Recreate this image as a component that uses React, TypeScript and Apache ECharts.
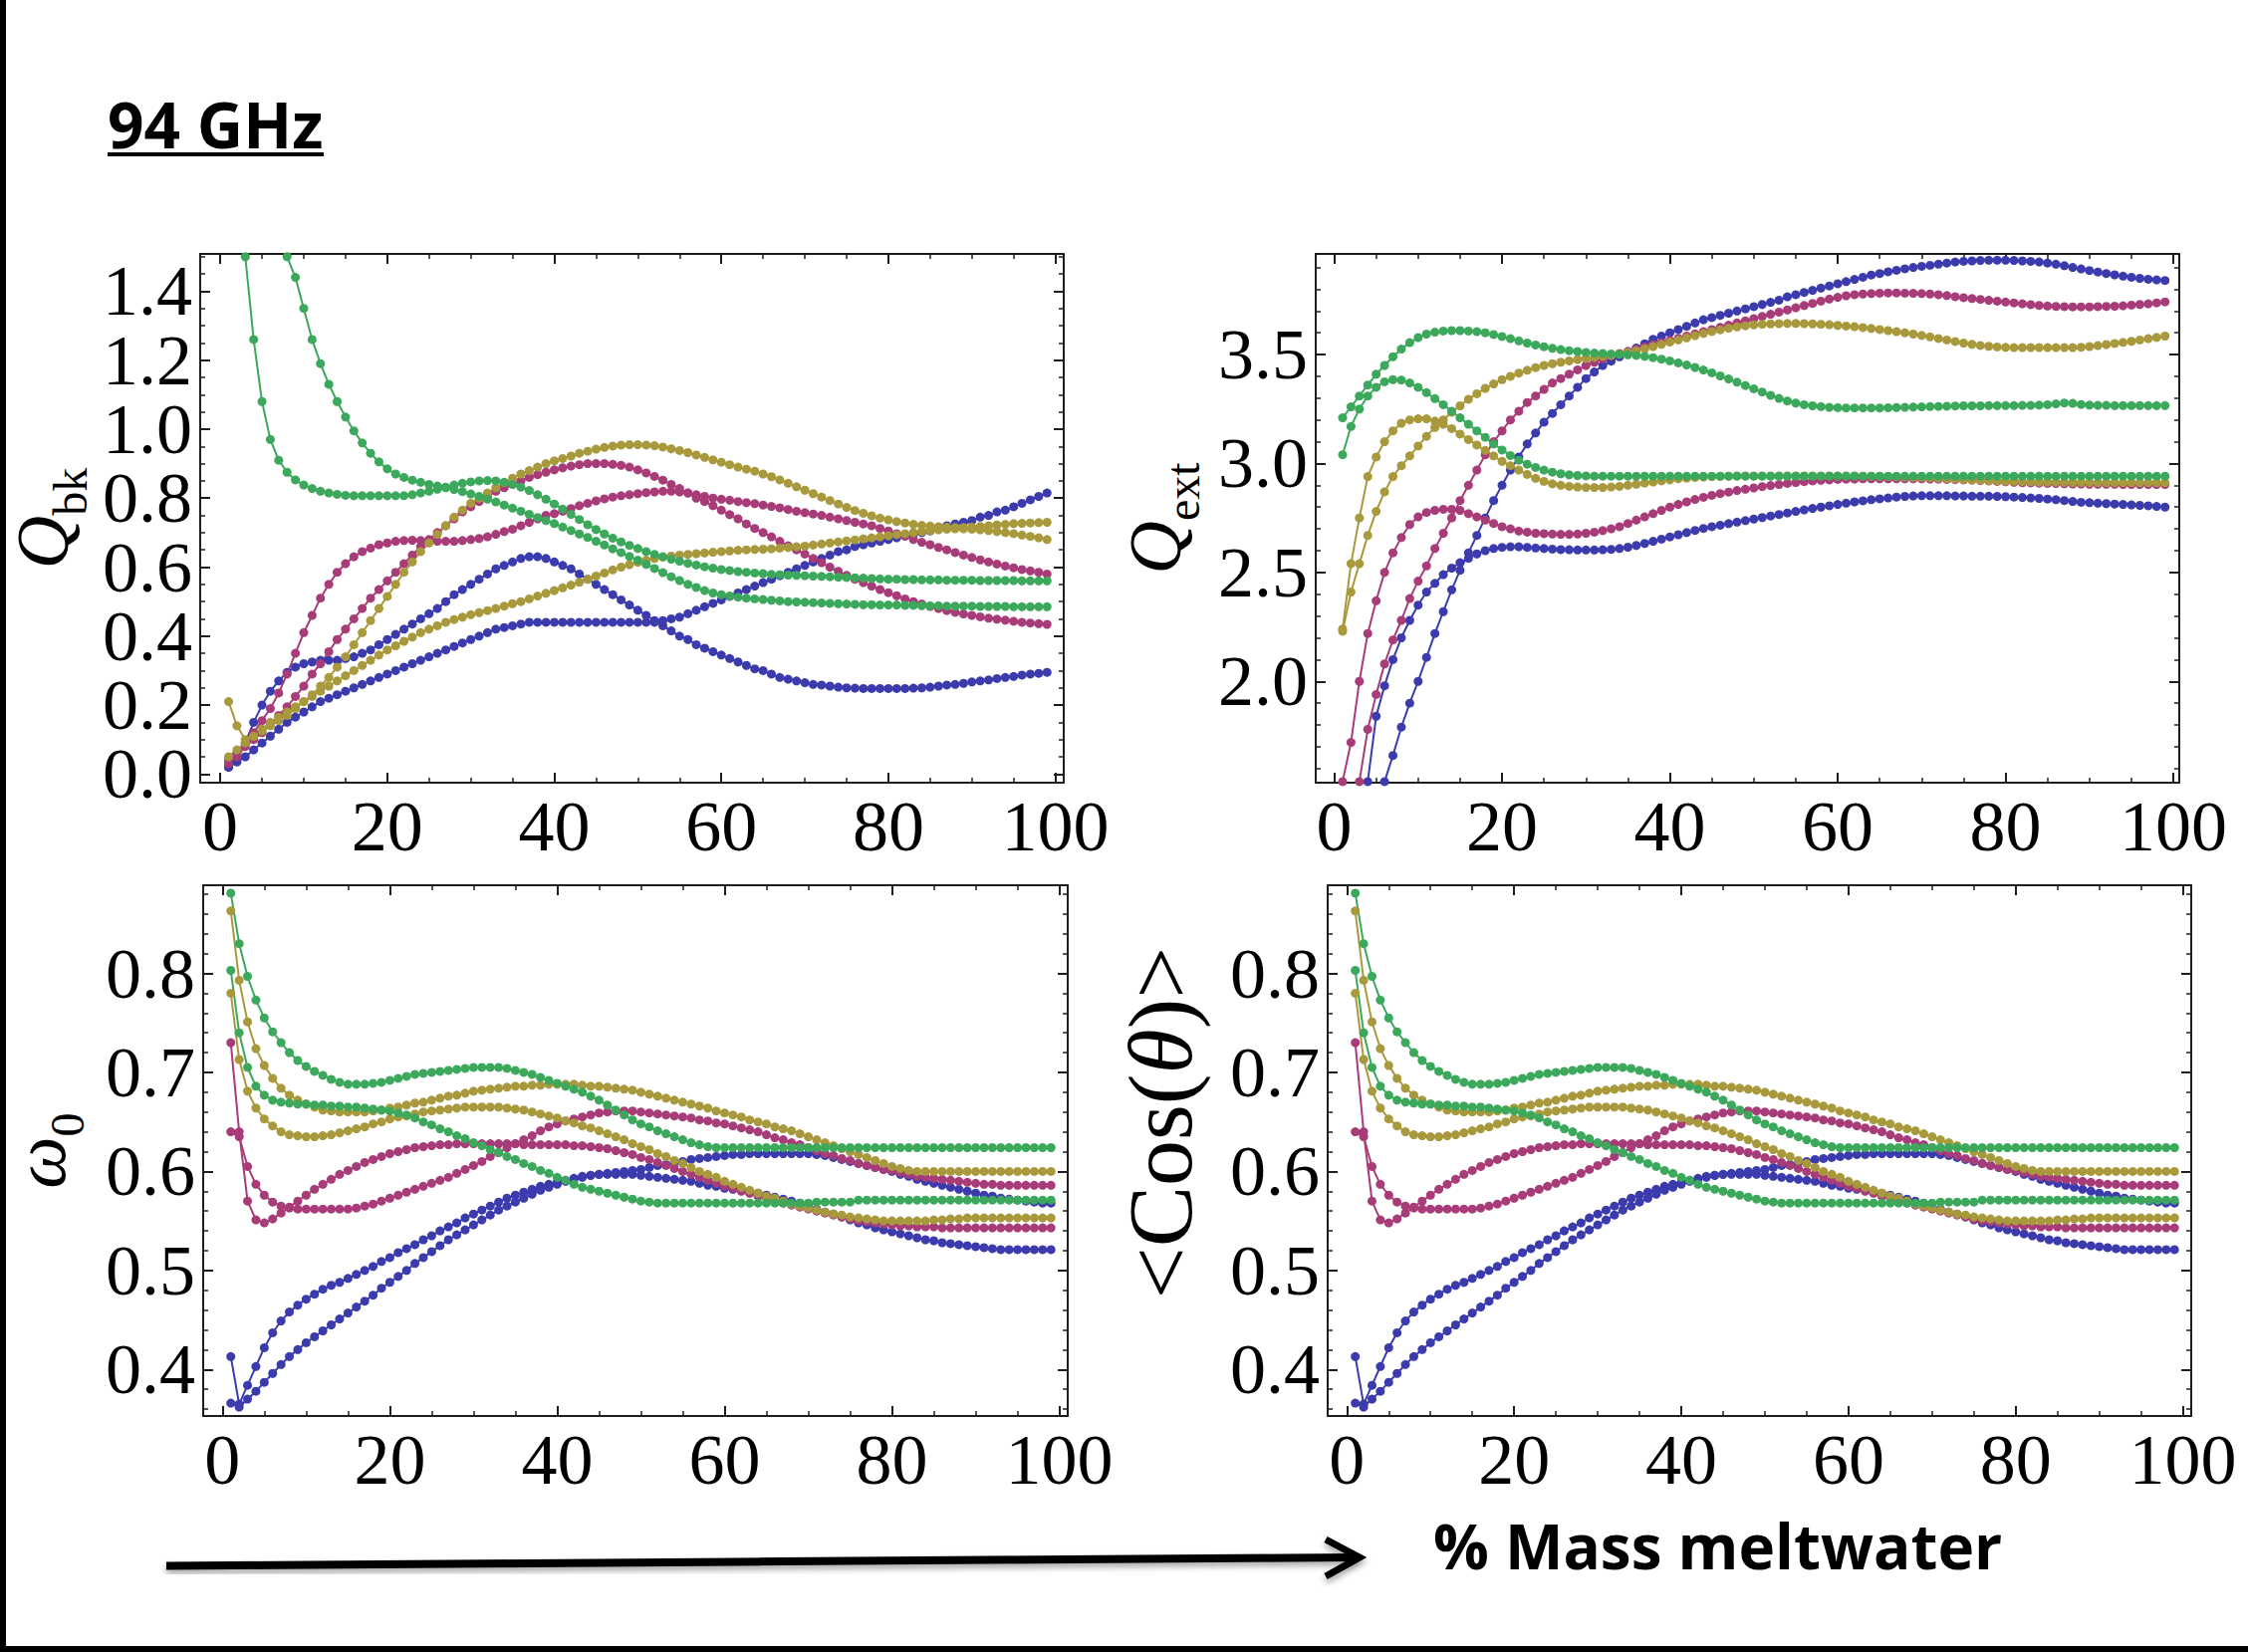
import React, { useEffect, useRef } from "react";
import * as echarts from "echarts";

// ---------- tick labels ----------
const X_TICKS = [0, 20, 40, 60, 80, 100];
const QBK_TICKS = [0, 0.2, 0.4, 0.6, 0.8, 1.0, 1.2, 1.4];
const QEXT_TICKS = [2.0, 2.5, 3.0, 3.5];
const W_TICKS = [0.4, 0.5, 0.6, 0.7, 0.8];

// x of every point = 1..99 (% mass meltwater)

// ---------- Q_bk ----------
const QBK_BLUE_1 = [
  0.02, 0.05, 0.09, 0.15, 0.2, 0.24, 0.27, 0.295, 0.31, 0.32,
  0.325, 0.33, 0.33, 0.33, 0.335, 0.34, 0.35, 0.36, 0.375, 0.39,
  0.405, 0.42, 0.435, 0.45, 0.465, 0.48, 0.5, 0.52, 0.535, 0.55,
  0.565, 0.58, 0.595, 0.605, 0.615, 0.625, 0.63, 0.63, 0.625, 0.615,
  0.605, 0.595, 0.58, 0.565, 0.55, 0.535, 0.52, 0.505, 0.49, 0.475,
  0.46, 0.445, 0.43, 0.415, 0.4, 0.39, 0.375, 0.365, 0.355, 0.345,
  0.335, 0.325, 0.315, 0.305, 0.3, 0.29, 0.28, 0.275, 0.27, 0.265,
  0.26, 0.258, 0.255, 0.252, 0.25, 0.249, 0.248, 0.248, 0.248, 0.248,
  0.248, 0.248, 0.249, 0.25, 0.252, 0.255, 0.258, 0.26, 0.263, 0.267,
  0.27, 0.273, 0.277, 0.28, 0.283, 0.287, 0.29, 0.292, 0.295,
];
const QBK_BLUE_2 = [
  0.02, 0.035, 0.05, 0.07, 0.09, 0.11, 0.13, 0.15, 0.165, 0.18,
  0.195, 0.21, 0.22, 0.23, 0.24, 0.25, 0.26, 0.27, 0.28, 0.29,
  0.3, 0.31, 0.32, 0.33, 0.34, 0.35, 0.36, 0.37, 0.38, 0.39,
  0.4, 0.41, 0.42, 0.425, 0.43, 0.435, 0.44, 0.44, 0.44, 0.44,
  0.44, 0.44, 0.44, 0.44, 0.44, 0.44, 0.44, 0.44, 0.44, 0.44,
  0.44, 0.44, 0.445, 0.45, 0.455, 0.465, 0.475, 0.485, 0.495, 0.505,
  0.515, 0.525, 0.535, 0.545, 0.555, 0.565, 0.575, 0.585, 0.595, 0.605,
  0.615, 0.625, 0.635, 0.645, 0.65, 0.66, 0.665, 0.67, 0.675, 0.68,
  0.685, 0.69, 0.695, 0.7, 0.705, 0.71, 0.72, 0.725, 0.73, 0.735,
  0.745, 0.75, 0.76, 0.765, 0.775, 0.785, 0.795, 0.805, 0.815,
];
const QBK_MAGENTA_1 = [
  0.04, 0.06, 0.09, 0.12, 0.155, 0.19, 0.235, 0.29, 0.35, 0.41,
  0.46, 0.51, 0.55, 0.585, 0.61, 0.63, 0.645, 0.655, 0.665, 0.67,
  0.675, 0.677, 0.678, 0.677, 0.675, 0.675, 0.675, 0.675, 0.677, 0.68,
  0.683, 0.688, 0.695, 0.703, 0.71, 0.72, 0.73, 0.74, 0.75, 0.755,
  0.762, 0.77, 0.778, 0.785, 0.792, 0.798, 0.803, 0.807, 0.81, 0.813,
  0.816, 0.818, 0.82, 0.82, 0.818, 0.815, 0.81, 0.805, 0.8, 0.797,
  0.794, 0.79, 0.787, 0.784, 0.78, 0.776, 0.772, 0.767, 0.762, 0.758,
  0.754, 0.75, 0.745, 0.74, 0.735, 0.73, 0.725, 0.72, 0.712, 0.705,
  0.697, 0.69, 0.68, 0.672, 0.665, 0.657, 0.65, 0.642, 0.635, 0.628,
  0.621, 0.615, 0.609, 0.603, 0.598, 0.593, 0.589, 0.585, 0.58,
];
const QBK_MAGENTA_2 = [
  0.03, 0.05, 0.08, 0.1, 0.12, 0.145, 0.17, 0.195, 0.225, 0.255,
  0.29, 0.32, 0.355, 0.39, 0.42, 0.45, 0.48, 0.51, 0.535, 0.56,
  0.585, 0.61, 0.635, 0.66, 0.68, 0.7, 0.72, 0.74, 0.76, 0.775,
  0.79, 0.805, 0.82, 0.83, 0.84, 0.85, 0.86, 0.868, 0.875, 0.882,
  0.888, 0.893, 0.897, 0.9, 0.9, 0.9, 0.898, 0.895, 0.89, 0.882,
  0.873, 0.863, 0.852, 0.84, 0.828, 0.815, 0.8, 0.79, 0.778, 0.765,
  0.752, 0.74, 0.725, 0.712, 0.7, 0.688, 0.675, 0.662, 0.65, 0.638,
  0.625, 0.613, 0.6, 0.588, 0.576, 0.565, 0.555, 0.545, 0.535, 0.526,
  0.517, 0.508, 0.5, 0.493, 0.486, 0.48, 0.474, 0.469, 0.464, 0.46,
  0.456, 0.452, 0.449, 0.446, 0.443, 0.44, 0.438, 0.436, 0.434,
];
const QBK_GOLD_1 = [
  0.21, 0.14, 0.1, 0.11, 0.125, 0.14, 0.155, 0.17, 0.19, 0.21,
  0.23, 0.255, 0.28, 0.31, 0.34, 0.375, 0.41, 0.445, 0.48, 0.515,
  0.55, 0.585, 0.615, 0.645, 0.67, 0.695, 0.72, 0.745, 0.765, 0.785,
  0.8, 0.815, 0.83, 0.845, 0.858, 0.87, 0.88, 0.89, 0.9, 0.908,
  0.915, 0.922, 0.93, 0.936, 0.942, 0.947, 0.951, 0.954, 0.955, 0.955,
  0.954, 0.952, 0.948, 0.943, 0.938, 0.932, 0.925, 0.918, 0.911, 0.904,
  0.897, 0.89, 0.884, 0.878, 0.87, 0.862, 0.853, 0.843, 0.833, 0.823,
  0.813, 0.803, 0.793, 0.783, 0.773, 0.764, 0.756, 0.749, 0.742, 0.737,
  0.732, 0.728, 0.724, 0.721, 0.719, 0.717, 0.716, 0.715, 0.715, 0.716,
  0.718, 0.72, 0.722, 0.724, 0.726, 0.727, 0.728, 0.729, 0.73,
];
const QBK_GOLD_2 = [
  0.05, 0.07, 0.09, 0.11, 0.13, 0.15, 0.165, 0.18, 0.195, 0.21,
  0.225, 0.24, 0.255, 0.27, 0.285, 0.3, 0.315, 0.33, 0.345, 0.36,
  0.372, 0.385, 0.397, 0.41, 0.42, 0.43, 0.44, 0.448, 0.455, 0.462,
  0.468, 0.474, 0.48, 0.487, 0.494, 0.5, 0.508, 0.516, 0.524, 0.532,
  0.54, 0.548, 0.556, 0.565, 0.574, 0.583, 0.592, 0.6, 0.607, 0.614,
  0.62, 0.625, 0.629, 0.632, 0.635, 0.637, 0.639, 0.641, 0.643, 0.645,
  0.647, 0.649, 0.65, 0.651, 0.652, 0.653, 0.655, 0.657, 0.659, 0.661,
  0.664, 0.667, 0.67, 0.673, 0.676, 0.679, 0.682, 0.685, 0.688, 0.691,
  0.694, 0.697, 0.7, 0.703, 0.706, 0.708, 0.71, 0.711, 0.711, 0.71,
  0.708, 0.706, 0.703, 0.7, 0.697, 0.693, 0.689, 0.685, 0.68,
];
const QBK_GREEN_1 = [
  null, null, 1.5, 1.26, 1.08, 0.97, 0.91, 0.875, 0.853, 0.838,
  0.828, 0.82, 0.815, 0.811, 0.808, 0.807, 0.807, 0.807, 0.807, 0.807,
  0.807, 0.807, 0.81, 0.815, 0.82, 0.826, 0.832, 0.838, 0.843, 0.847,
  0.85, 0.851, 0.85, 0.846, 0.84, 0.832, 0.822, 0.81, 0.797, 0.783,
  0.768, 0.753, 0.738, 0.723, 0.709, 0.696, 0.684, 0.673, 0.663, 0.654,
  0.645, 0.637, 0.63, 0.623, 0.617, 0.611, 0.606, 0.601, 0.597, 0.593,
  0.59, 0.587, 0.585, 0.583, 0.581, 0.579, 0.578, 0.577, 0.576, 0.575,
  0.574, 0.573, 0.572, 0.571, 0.57, 0.569, 0.568, 0.567, 0.566, 0.565,
  0.565, 0.564, 0.564, 0.563, 0.563, 0.563, 0.562, 0.562, 0.562, 0.562,
  0.561, 0.561, 0.561, 0.561, 0.561, 0.56, 0.56, 0.56, 0.56,
];
const QBK_GREEN_2 = [
  null, null, null, null, null, null, null, 1.5, 1.44, 1.35,
  1.26, 1.19, 1.13, 1.08, 1.035, 0.995, 0.96, 0.93, 0.905, 0.885,
  0.87, 0.86, 0.852, 0.846, 0.84, 0.835, 0.83, 0.825, 0.819, 0.812,
  0.805, 0.797, 0.789, 0.78, 0.771, 0.762, 0.753, 0.744, 0.735, 0.726,
  0.716, 0.706, 0.696, 0.686, 0.675, 0.664, 0.653, 0.642, 0.631, 0.62,
  0.608, 0.596, 0.584, 0.572, 0.561, 0.55, 0.541, 0.532, 0.525, 0.52,
  0.516, 0.513, 0.51, 0.508, 0.506, 0.504, 0.502, 0.5, 0.499, 0.498,
  0.497, 0.496, 0.495, 0.494, 0.493, 0.492, 0.491, 0.491, 0.49, 0.49,
  0.49, 0.489, 0.489, 0.488, 0.488, 0.488, 0.487, 0.487, 0.487, 0.487,
  0.486, 0.486, 0.486, 0.486, 0.485, 0.485, 0.485, 0.485, 0.485,
];

// ---------- Q_ext ----------
const QEXT_BLUE_1 = [
  null, null, null, null, null, 1.54, 1.66, 1.79, 1.9, 2.0,
  2.11, 2.22, 2.32, 2.42, 2.51, 2.59, 2.67, 2.75, 2.83, 2.9,
  2.97, 3.03, 3.09, 3.14, 3.19, 3.23, 3.27, 3.31, 3.35, 3.39,
  3.42, 3.45, 3.47, 3.49, 3.51, 3.53, 3.55, 3.57, 3.585, 3.6,
  3.615, 3.63, 3.645, 3.66, 3.67, 3.68, 3.69, 3.7, 3.71, 3.72,
  3.73, 3.74, 3.75, 3.765, 3.775, 3.785, 3.795, 3.805, 3.815, 3.825,
  3.835, 3.845, 3.855, 3.865, 3.872, 3.88, 3.887, 3.894, 3.9, 3.905,
  3.91, 3.915, 3.92, 3.925, 3.928, 3.93, 3.932, 3.933, 3.933, 3.933,
  3.932, 3.93, 3.928, 3.925, 3.92, 3.915, 3.908, 3.9, 3.893, 3.886,
  3.879, 3.872, 3.866, 3.86, 3.855, 3.85, 3.846, 3.843, 3.84,
];
const QEXT_BLUE_2 = [
  null, null, null, 1.54, 1.84, 1.98, 2.1, 2.2, 2.28, 2.35,
  2.41, 2.45, 2.49, 2.52, 2.545, 2.565, 2.585, 2.6, 2.61, 2.615,
  2.618, 2.618, 2.615, 2.612, 2.61, 2.607, 2.605, 2.604, 2.603, 2.603,
  2.603, 2.604, 2.606, 2.61, 2.616, 2.624, 2.633, 2.643, 2.653, 2.663,
  2.673, 2.683, 2.693, 2.702, 2.71, 2.717, 2.724, 2.731, 2.738, 2.745,
  2.752, 2.759, 2.766, 2.773, 2.78, 2.787, 2.794, 2.8, 2.806, 2.812,
  2.818, 2.824, 2.829, 2.834, 2.838, 2.842, 2.846, 2.849, 2.851, 2.852,
  2.852, 2.852, 2.852, 2.851, 2.851, 2.85, 2.85, 2.85, 2.849, 2.848,
  2.846, 2.844, 2.842, 2.84, 2.837, 2.834, 2.83, 2.826, 2.822, 2.82,
  2.818, 2.816, 2.814, 2.812, 2.81, 2.808, 2.806, 2.803, 2.8,
];
const QEXT_MAGENTA_1 = [
  1.54, 1.72, 2.0, 2.22, 2.37, 2.5, 2.59, 2.66, 2.72, 2.755,
  2.775, 2.785, 2.79, 2.79, 2.785, 2.77, 2.755, 2.74, 2.725, 2.71,
  2.7, 2.69, 2.685, 2.68, 2.678, 2.676, 2.675, 2.675, 2.676, 2.68,
  2.685, 2.692, 2.7, 2.71, 2.725, 2.74, 2.755, 2.77, 2.785, 2.8,
  2.812, 2.824, 2.835, 2.845, 2.854, 2.862, 2.869, 2.876, 2.882, 2.888,
  2.894, 2.899, 2.904, 2.909, 2.913, 2.917, 2.92, 2.923, 2.925, 2.927,
  2.928, 2.929, 2.93, 2.93, 2.93, 2.93, 2.93, 2.93, 2.93, 2.93,
  2.929, 2.928, 2.927, 2.926, 2.925, 2.924, 2.922, 2.92, 2.918, 2.916,
  2.914, 2.912, 2.911, 2.91, 2.909, 2.908, 2.907, 2.906, 2.906, 2.905,
  2.905, 2.905, 2.905, 2.904, 2.904, 2.904, 2.904, 2.904, 2.904,
];
const QEXT_MAGENTA_2 = [
  null, null, 1.54, 1.78, 1.94, 2.08, 2.19, 2.28, 2.38, 2.46,
  2.53, 2.61, 2.68, 2.75, 2.83, 2.9, 2.97, 3.04, 3.1, 3.15,
  3.2, 3.24, 3.28, 3.31, 3.34, 3.37, 3.39, 3.41, 3.43, 3.45,
  3.465, 3.48, 3.495, 3.505, 3.515, 3.525, 3.535, 3.545, 3.555, 3.565,
  3.575, 3.585, 3.595, 3.605, 3.615, 3.625, 3.635, 3.645, 3.655, 3.665,
  3.675, 3.685, 3.695, 3.705, 3.715, 3.725, 3.735, 3.745, 3.755, 3.763,
  3.77, 3.775, 3.778, 3.78, 3.782, 3.783, 3.783, 3.782, 3.781, 3.78,
  3.778, 3.775, 3.771, 3.766, 3.761, 3.757, 3.753, 3.749, 3.745, 3.741,
  3.737, 3.733, 3.729, 3.726, 3.723, 3.721, 3.72, 3.719, 3.719, 3.719,
  3.72, 3.721, 3.722, 3.724, 3.727, 3.73, 3.733, 3.737, 3.742,
];
const QEXT_GOLD_1 = [
  2.24, 2.54, 2.75, 2.94, 3.03, 3.1, 3.15, 3.185, 3.2, 3.205,
  3.205, 3.195, 3.18, 3.16, 3.135, 3.11, 3.085, 3.06, 3.035, 3.01,
  2.99, 2.97, 2.95, 2.932, 2.918, 2.907, 2.9, 2.895, 2.892, 2.89,
  2.89, 2.89, 2.892, 2.895, 2.9, 2.905, 2.91, 2.915, 2.92, 2.925,
  2.93, 2.933, 2.936, 2.938, 2.94, 2.941, 2.942, 2.943, 2.943, 2.943,
  2.943, 2.943, 2.943, 2.943, 2.943, 2.943, 2.943, 2.943, 2.943, 2.943,
  2.943, 2.943, 2.942, 2.942, 2.941, 2.94, 2.939, 2.938, 2.937, 2.936,
  2.935, 2.933, 2.931, 2.929, 2.927, 2.925, 2.923, 2.921, 2.92, 2.919,
  2.918, 2.917, 2.916, 2.915, 2.915, 2.914, 2.914, 2.913, 2.913, 2.913,
  2.912, 2.912, 2.912, 2.912, 2.912, 2.912, 2.912, 2.912, 2.912,
];
const QEXT_GOLD_2 = [
  2.23, 2.41, 2.54, 2.67, 2.78, 2.87, 2.94, 2.99, 3.035, 3.08,
  3.125, 3.165, 3.2, 3.235, 3.265, 3.295, 3.32, 3.345, 3.365, 3.385,
  3.4, 3.415, 3.428, 3.44, 3.45, 3.458, 3.465, 3.471, 3.477, 3.482,
  3.487, 3.492, 3.497, 3.503, 3.51, 3.518, 3.527, 3.537, 3.547, 3.557,
  3.567, 3.577, 3.587, 3.597, 3.606, 3.614, 3.621, 3.627, 3.632, 3.636,
  3.639, 3.641, 3.642, 3.643, 3.643, 3.642, 3.641, 3.639, 3.637, 3.634,
  3.631, 3.628, 3.624, 3.62, 3.615, 3.61, 3.605, 3.6, 3.594, 3.588,
  3.581, 3.574, 3.567, 3.56, 3.553, 3.547, 3.542, 3.538, 3.535, 3.533,
  3.532, 3.532, 3.532, 3.532, 3.532, 3.532, 3.532, 3.532, 3.534, 3.537,
  3.541, 3.546, 3.551, 3.556, 3.561, 3.567, 3.573, 3.579, 3.585,
];
const QEXT_GREEN_1 = [
  3.21, 3.26, 3.31, 3.36, 3.41, 3.45, 3.49, 3.525, 3.555, 3.578,
  3.594, 3.603, 3.608, 3.61, 3.61, 3.608, 3.605, 3.6, 3.592, 3.583,
  3.573, 3.563, 3.553, 3.544, 3.536, 3.529, 3.523, 3.518, 3.514, 3.51,
  3.507, 3.505, 3.503, 3.501, 3.499, 3.496, 3.492, 3.486, 3.479, 3.471,
  3.462, 3.452, 3.441, 3.429, 3.416, 3.402, 3.388, 3.373, 3.358, 3.343,
  3.328, 3.313, 3.299, 3.287, 3.277, 3.27, 3.265, 3.261, 3.258, 3.256,
  3.255, 3.255, 3.255, 3.255, 3.255, 3.256, 3.257, 3.258, 3.259, 3.26,
  3.261, 3.262, 3.263, 3.264, 3.265, 3.265, 3.265, 3.266, 3.266, 3.266,
  3.266, 3.267, 3.267, 3.268, 3.27, 3.274, 3.278, 3.276, 3.271, 3.268,
  3.267, 3.267, 3.266, 3.266, 3.266, 3.266, 3.266, 3.266, 3.266,
];
const QEXT_GREEN_2 = [
  3.04, 3.17, 3.25, 3.31, 3.35, 3.375, 3.385, 3.383, 3.37, 3.35,
  3.325, 3.298, 3.27, 3.24, 3.21, 3.18, 3.15, 3.12, 3.09, 3.062,
  3.037, 3.015, 2.997, 2.982, 2.97, 2.96, 2.953, 2.948, 2.945, 2.943,
  2.942, 2.942, 2.942, 2.942, 2.942, 2.942, 2.942, 2.942, 2.942, 2.942,
  2.942, 2.942, 2.942, 2.942, 2.942, 2.942, 2.942, 2.942, 2.942, 2.942,
  2.942, 2.942, 2.942, 2.942, 2.942, 2.942, 2.942, 2.942, 2.942, 2.942,
  2.942, 2.942, 2.942, 2.942, 2.942, 2.942, 2.942, 2.942, 2.942, 2.942,
  2.942, 2.942, 2.942, 2.942, 2.942, 2.942, 2.942, 2.942, 2.942, 2.942,
  2.942, 2.942, 2.942, 2.942, 2.942, 2.942, 2.942, 2.942, 2.942, 2.942,
  2.942, 2.942, 2.942, 2.942, 2.942, 2.942, 2.942, 2.942, 2.942,
];

// ---------- omega_0 (the <Cos(theta)> panel shows the same curves) ----------
const W_BLUE_1 = [
  0.413, 0.365, 0.384, 0.403, 0.422, 0.437, 0.449, 0.458, 0.465, 0.471,
  0.476, 0.481, 0.485, 0.488, 0.492, 0.496, 0.5, 0.504, 0.509, 0.513,
  0.518, 0.522, 0.526, 0.531, 0.535, 0.54, 0.544, 0.548, 0.553, 0.557,
  0.561, 0.565, 0.569, 0.573, 0.576, 0.579, 0.582, 0.585, 0.587, 0.589,
  0.591, 0.593, 0.595, 0.596, 0.597, 0.597, 0.597, 0.597, 0.597, 0.596,
  0.595, 0.594, 0.593, 0.592, 0.591, 0.59, 0.588, 0.586, 0.585, 0.583,
  0.582, 0.581, 0.579, 0.578, 0.576, 0.574, 0.572, 0.57, 0.568, 0.565,
  0.562, 0.559, 0.557, 0.554, 0.551, 0.548, 0.546, 0.543, 0.541, 0.539,
  0.537, 0.535, 0.533, 0.531, 0.53, 0.528, 0.527, 0.526, 0.525, 0.524,
  0.523, 0.522, 0.521, 0.521, 0.521, 0.521, 0.521, 0.521, 0.521,
];
const W_BLUE_2 = [
  0.366, 0.362, 0.37, 0.378, 0.387, 0.396, 0.405, 0.413, 0.42, 0.427,
  0.433, 0.439, 0.445, 0.451, 0.457, 0.463, 0.469, 0.475, 0.482, 0.488,
  0.494, 0.5, 0.507, 0.513, 0.519, 0.525, 0.531, 0.536, 0.541, 0.546,
  0.551, 0.556, 0.561, 0.565, 0.569, 0.573, 0.577, 0.581, 0.584, 0.587,
  0.59, 0.592, 0.594, 0.596, 0.597, 0.598, 0.599, 0.6, 0.601, 0.602,
  0.604, 0.606, 0.607, 0.609, 0.61, 0.612, 0.613, 0.614, 0.615, 0.616,
  0.617, 0.617, 0.618, 0.618, 0.618, 0.618, 0.618, 0.618, 0.618, 0.618,
  0.617, 0.616, 0.614, 0.612, 0.61, 0.608, 0.606, 0.604, 0.602, 0.6,
  0.597, 0.595, 0.592, 0.59, 0.588, 0.586, 0.584, 0.582, 0.58, 0.578,
  0.576, 0.575, 0.573, 0.572, 0.571, 0.57, 0.569, 0.568, 0.568,
];
const W_MAGENTA_1 = [
  0.73, 0.64, 0.57, 0.551, 0.548, 0.552, 0.558, 0.564, 0.57, 0.576,
  0.582, 0.587, 0.592, 0.597, 0.601, 0.605, 0.609, 0.612, 0.615, 0.618,
  0.62, 0.622, 0.624, 0.625, 0.626, 0.627, 0.627, 0.628, 0.628, 0.628,
  0.628, 0.628, 0.628, 0.628, 0.628, 0.627, 0.627, 0.627, 0.627, 0.627,
  0.627, 0.626, 0.626, 0.625, 0.624, 0.623, 0.621, 0.619, 0.617, 0.614,
  0.612, 0.609, 0.606, 0.603, 0.6, 0.597, 0.594, 0.591, 0.588, 0.585,
  0.583, 0.58, 0.578, 0.575, 0.573, 0.571, 0.568, 0.566, 0.564, 0.562,
  0.56, 0.558, 0.556, 0.554, 0.552, 0.55, 0.549, 0.548, 0.547, 0.546,
  0.545, 0.545, 0.544, 0.544, 0.544, 0.543, 0.543, 0.543, 0.543, 0.543,
  0.543, 0.543, 0.543, 0.543, 0.543, 0.543, 0.543, 0.543, 0.543,
];
const W_MAGENTA_2 = [
  0.64, 0.635, 0.605, 0.587, 0.576, 0.569, 0.565, 0.563, 0.562, 0.562,
  0.562, 0.562, 0.562, 0.562, 0.562, 0.563, 0.565, 0.567, 0.57, 0.573,
  0.576, 0.579, 0.582, 0.585, 0.588, 0.591, 0.594, 0.598, 0.602, 0.606,
  0.61, 0.615, 0.619, 0.624, 0.628, 0.632, 0.636, 0.641, 0.645, 0.648,
  0.651, 0.653, 0.655, 0.657, 0.659, 0.66, 0.661, 0.661, 0.661, 0.66,
  0.659, 0.658, 0.657, 0.656, 0.655, 0.654, 0.652, 0.651, 0.649, 0.648,
  0.646, 0.644, 0.642, 0.64, 0.637, 0.634, 0.632, 0.629, 0.627, 0.624,
  0.621, 0.618, 0.616, 0.613, 0.611, 0.608, 0.606, 0.604, 0.602, 0.601,
  0.599, 0.597, 0.595, 0.594, 0.593, 0.592, 0.591, 0.59, 0.589, 0.588,
  0.587, 0.587, 0.586, 0.586, 0.586, 0.586, 0.586, 0.586, 0.586,
];
const W_GOLD_1 = [
  0.863, 0.793, 0.751, 0.724, 0.707, 0.694, 0.684, 0.677, 0.672, 0.668,
  0.665, 0.662, 0.661, 0.66, 0.66, 0.66, 0.66, 0.661, 0.662, 0.664,
  0.665, 0.667, 0.669, 0.67, 0.672, 0.674, 0.676, 0.677, 0.679, 0.681,
  0.682, 0.683, 0.684, 0.685, 0.686, 0.686, 0.687, 0.687, 0.688, 0.688,
  0.688, 0.688, 0.687, 0.686, 0.686, 0.685, 0.684, 0.683, 0.682, 0.68,
  0.678, 0.676, 0.674, 0.672, 0.67, 0.668, 0.666, 0.664, 0.661, 0.659,
  0.657, 0.655, 0.652, 0.65, 0.648, 0.645, 0.643, 0.641, 0.638, 0.635,
  0.632, 0.629, 0.626, 0.623, 0.62, 0.617, 0.614, 0.611, 0.608, 0.605,
  0.603, 0.601, 0.6, 0.6, 0.6, 0.6, 0.6, 0.6, 0.6, 0.6,
  0.6, 0.6, 0.6, 0.6, 0.6, 0.6, 0.6, 0.6, 0.6,
];
const W_GOLD_2 = [
  0.78, 0.713, 0.681, 0.664, 0.653, 0.646, 0.64, 0.637, 0.636, 0.635,
  0.635, 0.636, 0.637, 0.639, 0.641, 0.643, 0.645, 0.648, 0.65, 0.653,
  0.655, 0.656, 0.658, 0.66, 0.661, 0.662, 0.663, 0.664, 0.665, 0.665,
  0.665, 0.665, 0.665, 0.664, 0.663, 0.662, 0.66, 0.658, 0.656, 0.654,
  0.651, 0.649, 0.646, 0.644, 0.641, 0.638, 0.635, 0.632, 0.628, 0.625,
  0.622, 0.618, 0.615, 0.611, 0.608, 0.604, 0.6, 0.597, 0.594, 0.59,
  0.587, 0.584, 0.581, 0.578, 0.575, 0.573, 0.57, 0.567, 0.565, 0.563,
  0.561, 0.559, 0.557, 0.556, 0.554, 0.553, 0.552, 0.551, 0.55, 0.55,
  0.55, 0.55, 0.55, 0.55, 0.551, 0.551, 0.552, 0.552, 0.553, 0.553,
  0.553, 0.553, 0.553, 0.553, 0.553, 0.553, 0.553, 0.553, 0.553,
];
const W_GREEN_1 = [
  0.881, 0.83, 0.797, 0.773, 0.755, 0.741, 0.73, 0.72, 0.712, 0.706,
  0.701, 0.697, 0.693, 0.69, 0.688, 0.688, 0.688, 0.689, 0.69, 0.692,
  0.694, 0.696, 0.698, 0.699, 0.7, 0.701, 0.702, 0.703, 0.704, 0.705,
  0.705, 0.705, 0.705, 0.704, 0.702, 0.7, 0.698, 0.695, 0.692, 0.689,
  0.686, 0.683, 0.68, 0.676, 0.672, 0.667, 0.662, 0.657, 0.652, 0.648,
  0.645, 0.641, 0.638, 0.635, 0.632, 0.629, 0.627, 0.625, 0.624, 0.624,
  0.624, 0.624, 0.624, 0.624, 0.624, 0.624, 0.624, 0.624, 0.624, 0.624,
  0.624, 0.624, 0.624, 0.624, 0.624, 0.624, 0.624, 0.624, 0.624, 0.624,
  0.624, 0.624, 0.624, 0.624, 0.624, 0.624, 0.624, 0.624, 0.624, 0.624,
  0.624, 0.624, 0.624, 0.624, 0.624, 0.624, 0.624, 0.624, 0.624,
];
const W_GREEN_2 = [
  0.803, 0.74, 0.705, 0.686, 0.677, 0.672, 0.67, 0.669, 0.668, 0.668,
  0.667, 0.667, 0.666, 0.666, 0.665, 0.665, 0.664, 0.663, 0.662, 0.661,
  0.659, 0.657, 0.654, 0.65, 0.647, 0.643, 0.64, 0.636, 0.633, 0.629,
  0.626, 0.622, 0.619, 0.615, 0.612, 0.608, 0.605, 0.601, 0.598, 0.594,
  0.591, 0.587, 0.584, 0.582, 0.58, 0.578, 0.576, 0.574, 0.572, 0.57,
  0.569, 0.568, 0.568, 0.568, 0.568, 0.568, 0.568, 0.568, 0.568, 0.568,
  0.568, 0.568, 0.568, 0.568, 0.568, 0.568, 0.568, 0.568, 0.568, 0.568,
  0.569, 0.569, 0.569, 0.569, 0.569, 0.571, 0.571, 0.571, 0.571, 0.571,
  0.571, 0.571, 0.571, 0.571, 0.571, 0.571, 0.571, 0.571, 0.571, 0.571,
  0.571, 0.571, 0.571, 0.571, 0.571, 0.571, 0.571, 0.571, 0.571,
];

const SERIES_COLORS = ["#3b3bae", "#a83c78", "#a8993c", "#3ca85c"];
const FRAME = "#1e1e1e";
const SERIF = '"Liberation Serif", "Times New Roman", serif';
const SANS = '"Open Sans", "Noto Sans", sans-serif';

const QBK_SETS = [QBK_BLUE_1, QBK_BLUE_2, QBK_MAGENTA_1, QBK_MAGENTA_2, QBK_GOLD_1, QBK_GOLD_2, QBK_GREEN_1, QBK_GREEN_2];
const QEXT_SETS = [QEXT_BLUE_1, QEXT_BLUE_2, QEXT_MAGENTA_1, QEXT_MAGENTA_2, QEXT_GOLD_1, QEXT_GOLD_2, QEXT_GREEN_1, QEXT_GREEN_2];
const W_SETS = [W_BLUE_1, W_BLUE_2, W_MAGENTA_1, W_MAGENTA_2, W_GOLD_1, W_GOLD_2, W_GREEN_1, W_GREEN_2];

const nameRich = {
  q: { fontFamily: SERIF, fontStyle: "italic", fontSize: 74, color: "#000" },
  s: { fontFamily: SERIF, fontSize: 48, color: "#000", padding: [54, 0, 0, 0] },
  n: { fontFamily: SERIF, fontSize: 92, color: "#000" },
  i: { fontFamily: SERIF, fontStyle: "italic", fontSize: 92, color: "#000" },
};

const PANELS = [
  { left: 201, top: 255, width: 867, height: 531, xMin: -2.4, xMax: 101, yMin: -0.025, yMax: 1.508, ySplit: 8, yMinor: 4, yTicks: QBK_TICKS, name: "{q|Q}{s|bk}", nameGap: 107, namePad: [0, 0, 0, 0], sets: QBK_SETS },
  { left: 1321, top: 255, width: 867, height: 531, xMin: -2.2, xMax: 100.7, yMin: 1.535, yMax: 3.962, ySplit: 5, yMinor: 5, yTicks: QEXT_TICKS, name: "{q|Q}{s|ext}", nameGap: 110, namePad: [0, 0, 0, 0], sets: QEXT_SETS },
  { left: 204, top: 889, width: 868, height: 533, xMin: -2.3, xMax: 101, yMin: 0.353, yMax: 0.889, ySplit: 5, yMinor: 5, yTicks: W_TICKS, name: "{q|ω}{s|0}", nameGap: 113, namePad: [0, 0, 0, 0], sets: W_SETS },
  { left: 1333, top: 889, width: 867, height: 533, xMin: -2.3, xMax: 101, yMin: 0.353, yMax: 0.889, ySplit: 5, yMinor: 5, yTicks: W_TICKS, name: "{n|<Cos(}{i|θ}{n|)>}", nameGap: 122, namePad: [0, 0, 0, 56], sets: W_SETS },
];

function near(v: number, list: number[]) {
  return list.some((t) => Math.abs(t - v) < 1e-6);
}

function buildOption() {
  const grid: any[] = [];
  const xAxis: any[] = [];
  const yAxis: any[] = [];
  const series: any[] = [];

  PANELS.forEach((p, gi) => {
    grid.push({ left: p.left, top: p.top, width: p.width, height: p.height, containLabel: false, outerBoundsMode: "none" });
    ["bottom", "top"].forEach((pos) => {
      xAxis.push({
        type: "value",
        gridIndex: gi,
        position: pos,
        min: p.xMin,
        max: p.xMax,
        splitNumber: 5,
        axisLine: { show: true, onZero: false, lineStyle: { color: FRAME, width: 2 } },
        axisTick: { show: true, inside: true, length: 10, customValues: X_TICKS, lineStyle: { color: FRAME, width: 2 } },
        minorTick: { show: true, splitNumber: 4, length: 5, lineStyle: { color: FRAME, width: 1.5 } },
        splitLine: { show: false },
        axisLabel:
          pos === "bottom"
            ? {
                show: true,
                customValues: X_TICKS,
                showMinLabel: true,
                showMaxLabel: true,
                formatter: (v: number) => (near(v, X_TICKS) ? String(Math.round(v)) : ""),
                fontFamily: SERIF,
                fontSize: 72,
                lineHeight: 60,
                color: "#000",
                margin: 14,
              }
            : { show: false },
      });
    });
    // the frame ends carry blank labels so that ECharts' min/max label culling
    // only ever touches those blanks, never a real tick label
    const yLabelValues = [p.yMin, ...p.yTicks, p.yMax];
    ["left", "right"].forEach((pos) => {
      yAxis.push({
        type: "value",
        gridIndex: gi,
        position: pos,
        min: p.yMin,
        max: p.yMax,
        splitNumber: p.ySplit,
        axisLine: { show: true, onZero: false, lineStyle: { color: FRAME, width: 2 } },
        axisTick: { show: true, inside: true, length: 10, customValues: yLabelValues, lineStyle: { color: FRAME, width: 2 } },
        minorTick: { show: true, splitNumber: p.yMinor, length: 5, lineStyle: { color: FRAME, width: 1.5 } },
        splitLine: { show: false },
        name: pos === "left" ? p.name : "",
        nameLocation: "middle",
        nameRotate: 90,
        nameGap: p.nameGap,
        nameTextStyle: { color: "#000", rich: nameRich, padding: p.namePad },
        axisLabel:
          pos === "left"
            ? {
                show: true,
                customValues: yLabelValues,
                showMinLabel: false,
                showMaxLabel: false,
                hideOverlap: false,
                formatter: (v: number) => (near(v, p.yTicks) ? v.toFixed(1) : " "),
                fontFamily: SERIF,
                fontSize: 72,
                lineHeight: 36,
                color: "#000",
                margin: 8,
              }
            : { show: false },
      });
    });
    p.sets.forEach((ys: (number | null)[], k: number) => {
      const color = SERIES_COLORS[Math.floor(k / 2)];
      series.push({
        type: "line",
        xAxisIndex: gi * 2,
        yAxisIndex: gi * 2,
        data: ys.map((v, i) => [i + 1, v == null ? "-" : v]),
        symbol: "circle",
        symbolSize: 9,
        showSymbol: true,
        showAllSymbol: true,
        connectNulls: false,
        clip: true,
        silent: true,
        lineStyle: { color, width: 2 },
        itemStyle: { color },
        z: 2,
      });
    });
  });

  const graphic: any[] = [
    { type: "rect", shape: { x: 0, y: 0, width: 6, height: 1659 }, style: { fill: "#000" }, silent: true },
    { type: "rect", shape: { x: 0, y: 1653, width: 2257, height: 6 }, style: { fill: "#000" }, silent: true },
    {
      type: "text",
      x: 108,
      y: 124,
      style: { text: "94 GHz", fontFamily: SANS, fontWeight: "bold", fontSize: 64, fill: "#000", align: "left", verticalAlign: "middle" },
      silent: true,
    },
    { type: "rect", shape: { x: 108, y: 153, width: 217, height: 4 }, style: { fill: "#000" }, silent: true },
    {
      type: "text",
      x: 1439,
      y: 1552,
      style: { text: "% Mass meltwater", fontFamily: SANS, fontWeight: "bold", fontSize: 62, fill: "#000", align: "left", verticalAlign: "middle" },
      silent: true,
    },
    {
      type: "line",
      shape: { x1: 167, y1: 1572.5, x2: 1360, y2: 1564 },
      style: { stroke: "#000", lineWidth: 8, shadowBlur: 6, shadowColor: "rgba(0,0,0,0.35)", shadowOffsetY: 4 },
      silent: true,
    },
    {
      type: "polyline",
      shape: { points: [[1331, 1546], [1365, 1564], [1331, 1583]] },
      style: { stroke: "#000", fill: null, lineWidth: 7, lineJoin: "miter", shadowBlur: 6, shadowColor: "rgba(0,0,0,0.35)", shadowOffsetY: 4 },
      silent: true,
    },
  ];

  return { animation: false, backgroundColor: "#ffffff", grid, xAxis, yAxis, series, graphic };
}

export default function App() {
  const ref = useRef<HTMLDivElement>(null);
  useEffect(() => {
    if (!ref.current) return;
    const chart = echarts.init(ref.current, null, { renderer: "svg" });
    chart.setOption(buildOption() as any);
    return () => chart.dispose();
  }, []);
  return (
    <div
      ref={ref}
      style={{ position: "absolute", left: 0, top: 0, width: 2257, height: 1659, background: "#fff" }}
    />
  );
}
